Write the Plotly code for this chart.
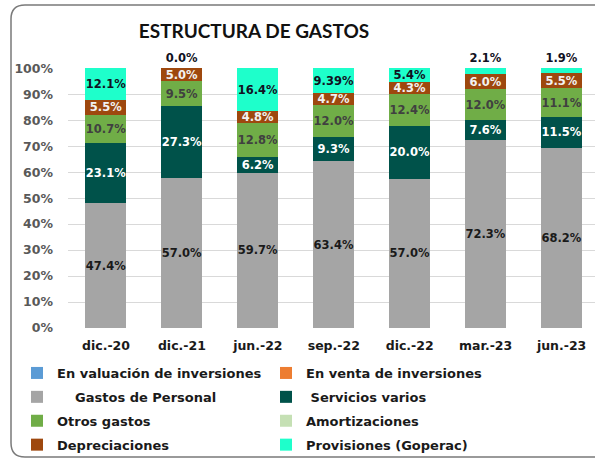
import plotly.graph_objects as go

categories = ["dic.-20", "dic.-21", "jun.-22", "sep.-22", "dic.-22", "mar.-23", "jun.-23"]
valuacion = [0, 0, 0, 0, 0, 0, 0]
venta = [0, 0, 0, 0, 0, 0, 0]
personal = [47.4, 57.0, 59.7, 63.4, 57.0, 72.3, 68.2]
servicios = [23.1, 27.3, 6.2, 9.3, 20.0, 7.6, 11.5]
otros = [10.7, 9.5, 12.8, 12.0, 12.4, 12.0, 11.1]
amortizaciones = [0, 0, 0, 0, 0, 0, 0]
depreciaciones = [5.5, 5.0, 4.8, 4.7, 4.3, 6.0, 5.5]
provisiones = [12.1, 0.0, 16.4, 9.39, 5.4, 2.1, 1.9]
y_ticks = [0, 10, 20, 30, 40, 50, 60, 70, 80, 90, 100]

W, H = 595, 461
ML, MR, MT, MB = 68, 0, 68, 133
PW, PH = W - ML - MR, H - MT - MB

LABEL_FONT = "DejaVu Sans"


def px_x(x):
    return (x - ML) / PW


def px_y(y):
    return (H - MB - y) / PH


def lbl(vals):
    return [f"{v}%" for v in vals]


# name, values, colour, label colour, label mode, legend column
series = [
    ("En valuación de inversiones", valuacion, "#5B9BD5", None, None, "legend"),
    ("En venta de inversiones", venta, "#ED7D31", None, None, "legend2"),
    ("\u00a0\u00a0\u00a0\u00a0Gastos de Personal", personal, "#A5A5A5", "#1a1a1a", "inside", "legend"),
    ("\u00a0Servicios varios", servicios, "#00524A", "#FFFFFF", "inside", "legend2"),
    ("Otros gastos", otros, "#70AD47", "#404040", "inside", "legend"),
    ("Amortizaciones", amortizaciones, "#C5E0B4", None, None, "legend2"),
    ("Depreciaciones", depreciaciones, "#9E480E", "#F2F2F2", "inside", "legend"),
    ("Provisiones (Goperac)", provisiones, "#1EFFCB", "#111122", "prov", "legend2"),
]

fig = go.Figure()
for i, (name, vals, color, tcolor, tpos, leg) in enumerate(series):
    kw = {}
    if tcolor is not None:
        if tpos == "prov":
            positions = ["outside" if v < 3 else "inside" for v in vals]
        else:
            positions = "inside"
        kw = dict(
            text=lbl(vals),
            textposition=positions,
            textangle=0,
            insidetextanchor="middle",
            textfont=dict(family=LABEL_FONT, size=11.5, color=tcolor, weight="bold"),
            outsidetextfont=dict(family=LABEL_FONT, size=11.5, color="#111122", weight="bold"),
            constraintext="none",
            cliponaxis=False,
        )
    fig.add_trace(go.Bar(
        x=categories, y=vals, name=name,
        marker=dict(color=color, line=dict(width=0)),
        hoverinfo="skip", legend=leg, legendgroup=f"g{i}",
        **kw,
    ))

# rounded frame
r = 14
x0, x1 = 11, W + 20
y0, y1 = 5, 457
path = (
    f"M {px_x(x0 + r)},{px_y(y0)} L {px_x(x1)},{px_y(y0)} "
    f"M {px_x(x0 + r)},{px_y(y0)} Q {px_x(x0)},{px_y(y0)} {px_x(x0)},{px_y(y0 + r)} "
    f"L {px_x(x0)},{px_y(y1 - r)} Q {px_x(x0)},{px_y(y1)} {px_x(x0 + r)},{px_y(y1)} "
    f"L {px_x(x1)},{px_y(y1)}"
)
fig.add_shape(type="path", path=path, xref="paper", yref="paper",
              line=dict(color="#7A7A7A", width=1.5), layer="below")

legfont = dict(family=LABEL_FONT, size=13, color="#1a1a1a", weight="bold")
common_leg = dict(orientation="v", xanchor="left", yanchor="top", traceorder="grouped",
                  tracegroupgap=4, bgcolor="rgba(0,0,0,0)", font=legfont)

fig.update_layout(
    width=W, height=H, autosize=False,
    margin=dict(l=ML, r=MR, t=MT, b=MB, pad=0, autoexpand=False),
    paper_bgcolor="white", plot_bgcolor="white",
    barmode="stack", barnorm="percent", bargap=0.46,
    title=dict(text="<b>ESTRUCTURA DE GASTOS</b>", x=254 / W, xanchor="center",
               xref="container", y=1 - 31 / H, yanchor="middle", yref="container",
               font=dict(family="Lato", size=19, color="#111111")),
    xaxis=dict(range=[-0.5, 6.44], showgrid=False, showline=False, zeroline=False,
               tickfont=dict(family=LABEL_FONT, size=12.5, color="#1a1a1a", weight="bold"),
               ticklabelstandoff=8, fixedrange=True, automargin=False),
    yaxis=dict(range=[0, 100.1], tickmode="array", tickvals=y_ticks,
               ticktext=[f"{t}%" for t in y_ticks], showgrid=True,
               gridcolor="#D9D9D9", gridwidth=1, showline=False, zeroline=False,
               tickfont=dict(family=LABEL_FONT, size=12.5, color="#595959", weight="bold"),
               ticklabelstandoff=14, fixedrange=True, automargin=False),
    legend=dict(x=px_x(17), y=px_y(358), **common_leg),
    legend2=dict(x=px_x(266), y=px_y(358), **common_leg),
    showlegend=True,
)

fig.write_html("out.html", config={"displayModeBar": False},
               post_script="document.body.style.margin='0';")
